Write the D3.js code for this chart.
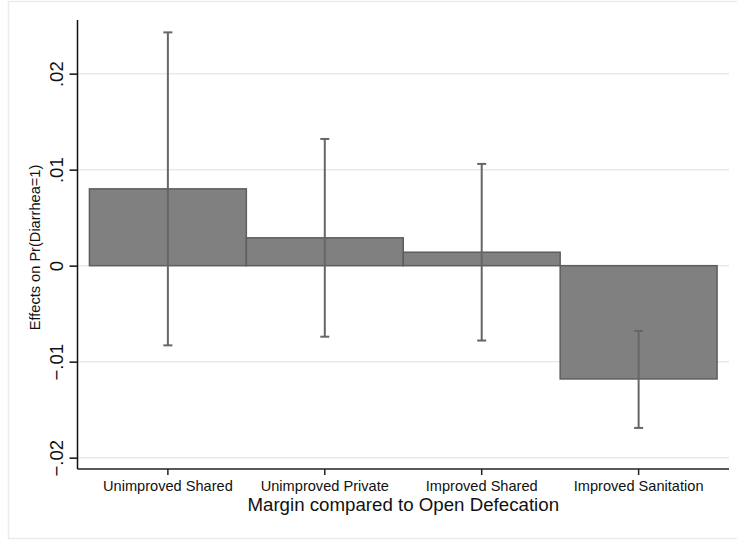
<!DOCTYPE html>
<html>
<head>
<meta charset="utf-8">
<script src="https://cdn.jsdelivr.net/npm/d3@7"></script>
<style>
  html, body { margin: 0; padding: 0; background: #fff; }
  svg { display: block; font-family: "Liberation Sans", Arial, Helvetica, sans-serif; }
</style>
</head>
<body>
<svg id="chart" width="737" height="540"></svg>
<script>
const categories = ["Unimproved Shared", "Unimproved Private", "Improved Shared", "Improved Sanitation"];
const effects = [0.0080, 0.0029, 0.0014, -0.0118];
const ciLow = [-0.0083, -0.0074, -0.0078, -0.0169];
const ciHigh = [0.0243, 0.0132, 0.0106, -0.0068];
const yTicks = [-0.02, -0.01, 0, 0.01, 0.02];
const yTickLabels = ["\u2212.02", "\u2212.01", "0", ".01", ".02"];
const xTitle = "Margin compared to Open Defecation";
const yTitle = "Effects on Pr(Diarrhea=1)";

const svg = d3.select("#chart");
const plot = { left: 77.5, right: 729, top: 20, bottom: 469 };

// outer frame
svg.append("rect")
  .attr("x", 8.5).attr("y", 1.5)
  .attr("width", 740).attr("height", 537)
  .attr("fill", "#fff").attr("stroke", "#ececec").attr("stroke-width", 1.5);

const x = d3.scaleBand().domain(categories)
  .range([plot.left, plot.right]).paddingInner(0).paddingOuter(0.076);
const y = d3.scaleLinear().domain([-0.02118, 0.02559]).range([plot.bottom, plot.top]);

// gridlines
svg.append("g").selectAll("line").data(yTicks).join("line")
  .attr("x1", plot.left).attr("x2", plot.right)
  .attr("y1", d => y(d)).attr("y2", d => y(d))
  .attr("stroke", "#e9e9e9").attr("stroke-width", 1.5);

// bars
const data = categories.map((c, i) => ({ c, v: effects[i], lo: ciLow[i], hi: ciHigh[i] }));
svg.append("g").selectAll("rect").data(data).join("rect")
  .attr("x", d => x(d.c))
  .attr("width", x.bandwidth())
  .attr("y", d => y(Math.max(0, d.v)))
  .attr("height", d => Math.abs(y(d.v) - y(0)))
  .attr("fill", "#808080")
  .attr("stroke", "#5e5e5e").attr("stroke-width", 1.5);

// error bars
const eg = svg.append("g").attr("stroke", "#666").attr("stroke-width", 2);
const cx = d => x(d.c) + x.bandwidth() / 2;
eg.selectAll(".v").data(data).join("line").attr("class", "v")
  .attr("x1", cx).attr("x2", cx)
  .attr("y1", d => y(d.lo)).attr("y2", d => y(d.hi));
eg.selectAll(".ch").data(data).join("line").attr("class", "ch")
  .attr("x1", d => cx(d) - 4.5).attr("x2", d => cx(d) + 4.5)
  .attr("y1", d => y(d.hi)).attr("y2", d => y(d.hi));
eg.selectAll(".cl").data(data).join("line").attr("class", "cl")
  .attr("x1", d => cx(d) - 4.5).attr("x2", d => cx(d) + 4.5)
  .attr("y1", d => y(d.lo)).attr("y2", d => y(d.lo));

// y axis
const yAxis = svg.append("g").attr("transform", `translate(${plot.left},0)`)
  .call(d3.axisLeft(y).tickValues(yTicks).tickSize(8).tickFormat((d, i) => yTickLabels[i]));
yAxis.select(".domain").attr("d", `M0,${plot.top}V${plot.bottom}`).attr("stroke", "#111").attr("stroke-width", 1.5);
yAxis.selectAll(".tick line").attr("stroke", "#111").attr("stroke-width", 1.5);
yAxis.selectAll(".tick text")
  .attr("x", null).attr("dy", null)
  .attr("transform", "translate(-15,0) rotate(-90)")
  .attr("text-anchor", "middle")
  .attr("y", 0)
  .attr("font-size", 18.5).attr("font-family", "Liberation Sans, Arial, sans-serif")
  .attr("fill", "#111");

// x axis
const xAxis = svg.append("g").attr("transform", `translate(0,${plot.bottom})`)
  .call(d3.axisBottom(x).tickSize(6).tickSizeOuter(0));
xAxis.select(".domain").attr("d", `M${plot.left},0H${plot.right}`).attr("stroke", "#222").attr("stroke-width", 1.5);
xAxis.selectAll(".tick line").attr("stroke", "#222").attr("stroke-width", 1.5);
xAxis.selectAll(".tick text")
  .attr("y", 22).attr("dy", null)
  .attr("font-size", 14.6).attr("font-family", "Liberation Sans, Arial, sans-serif")
  .attr("fill", "#111");

// titles
svg.append("text")
  .attr("x", (plot.left + plot.right) / 2).attr("y", 510.5)
  .attr("text-anchor", "middle").attr("font-size", 18.7).attr("fill", "#111")
  .text(xTitle);
svg.append("text")
  .attr("transform", `translate(39.5,${(plot.top + plot.bottom) / 2 + 3}) rotate(-90)`)
  .attr("text-anchor", "middle").attr("font-size", 14.6).attr("fill", "#111")
  .text(yTitle);
</script>
</body>
</html>
